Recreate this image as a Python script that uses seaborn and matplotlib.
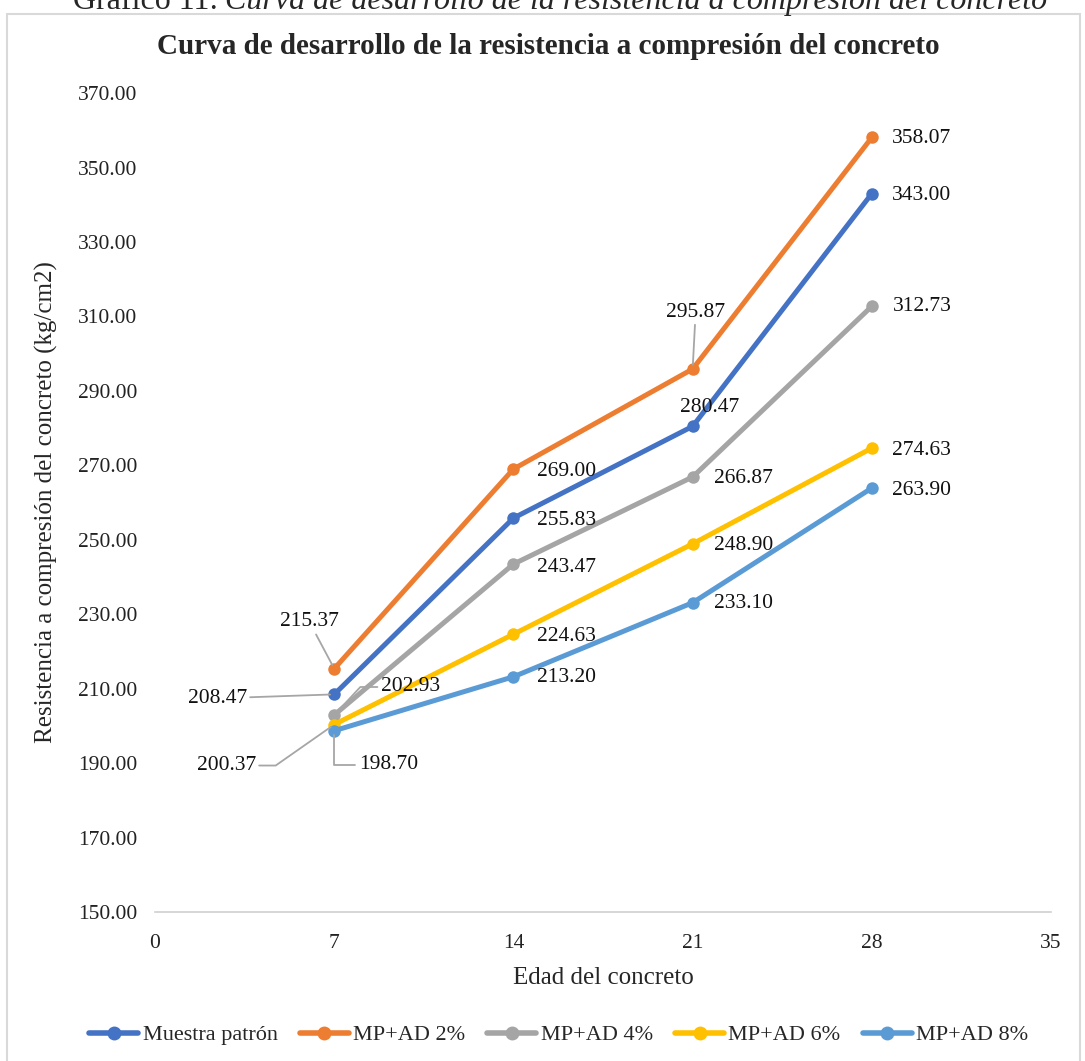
import pandas as pd
import numpy as np
import matplotlib
matplotlib.use("Agg")
import matplotlib.pyplot as plt
import seaborn as sns
from matplotlib.patches import Rectangle

# Datos
edades = [7, 14, 21, 28]
series = ["Muestra patrón", "MP+AD 2%", "MP+AD 4%", "MP+AD 6%", "MP+AD 8%"]
patron = [208.47, 255.83, 280.47, 343.00]
ad2 = [215.37, 269.00, 295.87, 358.07]
ad4 = [202.93, 243.47, 266.87, 312.73]
ad6 = [200.37, 224.63, 248.90, 274.63]
ad8 = [198.70, 213.20, 233.10, 263.90]
colores = ["#4472C4", "#ED7D31", "#A5A5A5", "#FFC000", "#5B9BD5"]

valores = [patron, ad2, ad4, ad6, ad8]
df = pd.DataFrame({
    "edad": edades * len(series),
    "resistencia": sum(valores, []),
    "serie": np.repeat(series, len(edades)),
})

sns.set_style("white")
plt.rcParams["font.family"] = ["Liberation Serif", "DejaVu Serif"]

fig = plt.figure(figsize=(10.85, 10.61), dpi=100)
ax = fig.add_axes([0.1429, 0.1404, 0.8258, 0.7719])

# marco gris del area del grafico
fig.patches.append(Rectangle((7 / 1085, -0.01), 1073 / 1085, 1 - 14 / 1061 + 0.01,
                             transform=fig.transFigure, fill=False,
                             edgecolor="#D9D9D9", linewidth=1.5))

sns.lineplot(data=df, x="edad", y="resistencia", hue="serie", palette=colores,
             marker="o", markersize=9, markeredgewidth=0, linewidth=3.6,
             ax=ax, legend=False)

ax.set_xlim(0, 35)
ax.set_ylim(150, 370)
ax.set_xticks([0, 7, 14, 21, 28, 35])
ax.set_yticks(np.arange(150, 371, 20))
ax.yaxis.set_major_formatter(matplotlib.ticker.FormatStrFormatter("%.2f"))
ax.tick_params(axis="both", length=0, labelsize=15.5, colors="#222222")
ax.tick_params(axis="x", pad=16)
ax.tick_params(axis="y", pad=13)
for s in ["top", "right", "left"]:
    ax.spines[s].set_visible(False)
ax.spines["bottom"].set_color("#D0D0D0")
ax.spines["bottom"].set_linewidth(1.2)

ax.set_xlabel("Edad del concreto", fontsize=18, labelpad=10)
ax.set_ylabel("Resistencia a compresión del concreto (kg/cm2)", fontsize=18, labelpad=14)

# etiquetas de datos: (dx, dy) en pixeles y tipo de linea guia
offsets = {
    "Muestra patrón": [(-117, -4, "recta"), (53, -2, None), (17, 19, None), (50, -2, None)],
    "MP+AD 2%": [(-25, 47, "recta"), (53, -2, None), (3, 57, "recta"), (50, -1, None)],
    "MP+AD 4%": [(76, 28, 47), (53, -3, None), (51, -2, None), (50, 0, None)],
    "MP+AD 6%": [(-108, -41, 35), (53, -2, None), (51, -2, None), (50, -2, None)],
    "MP+AD 8%": [(54, -34, 90), (53, -1, None), (51, -1, None), (50, -2, None)],
}
for nombre, vals in zip(series, valores):
    for x, y, (dx, dy, guia) in zip(edades, vals, offsets[nombre]):
        props = None
        if guia == "recta":
            props = dict(arrowstyle="-", color="#A6A6A6", lw=1.3, shrinkA=0, shrinkB=3)
        elif guia is not None:
            props = dict(arrowstyle="-", color="#A6A6A6", lw=1.3, shrinkA=0, shrinkB=3,
                         connectionstyle=f"angle,angleA=0,angleB={guia},rad=0")
        ax.annotate(f"{y:.2f}", (x, y), xytext=(dx, dy), textcoords="offset pixels",
                    ha="center", va="center", fontsize=15.5, color="#111111",
                    arrowprops=props)

fig.text(0.505, 1 - 47 / 1061, "Curva de desarrollo de la resistencia a compresión del concreto",
         ha="center", va="center", fontsize=21, fontweight="bold")

# pie de figura recortado en la parte superior
fig.text(218 / 1085, 1 - 9 / 1061, "Gráfico 11:", ha="right", va="baseline", fontsize=23)
fig.text(225 / 1085, 1 - 9 / 1061,
         "Curva de desarrollo de la resistencia a compresión del concreto",
         ha="left", va="baseline", fontsize=23, style="italic")

handles = [plt.Line2D([], [], color=c, lw=4, marker="o", markersize=9) for c in colores]
fig.legend(handles, series, loc="center", bbox_to_anchor=(0.515, 0.0245), ncol=5,
           frameon=False, fontsize=16, handlelength=2.2, handletextpad=0.2,
           columnspacing=1.0)

fig.savefig("out.png", dpi=100)
